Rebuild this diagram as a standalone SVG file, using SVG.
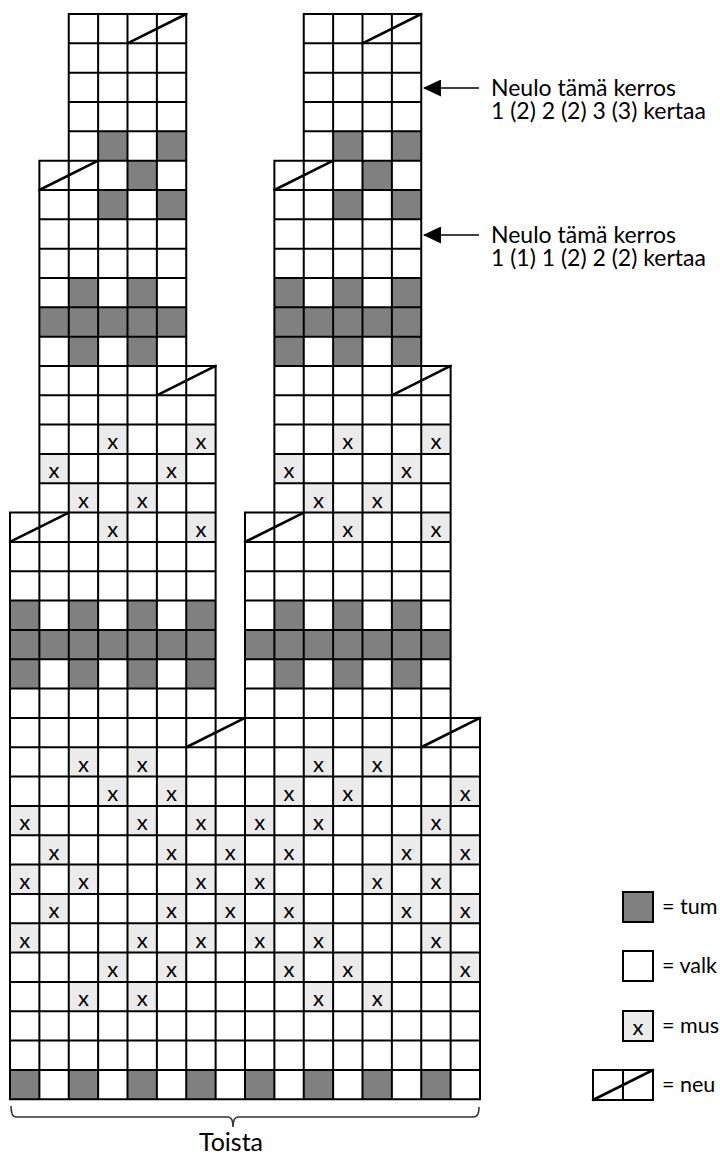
<svg xmlns="http://www.w3.org/2000/svg" xmlns:xlink="http://www.w3.org/1999/xlink" width="720" height="1155" viewBox="0 0 720 1155">
<style>
.dk{fill:#808080}
.lt{fill:#ebebeb}
.grid{fill:none;stroke:#000;stroke-width:2;stroke-linecap:square}
.diag{fill:none;stroke:#000;stroke-width:2.6;stroke-linecap:round}
.xm{font-family:Lato,"Liberation Sans",sans-serif;font-size:22px;text-anchor:middle;fill:#000}
.lbl{font-family:Lato,"Liberation Sans",sans-serif;font-size:23px;fill:#000}
.leg{font-family:Lato,"Liberation Sans",sans-serif;font-size:21.5px;fill:#000}
.conn{stroke:#000;stroke-width:1.6;fill:none}
</style>
<defs>
<marker id="ah" markerUnits="userSpaceOnUse" markerWidth="18" markerHeight="17" refX="17" refY="8.5" orient="auto">
<path d="M0 0L18 8.5L0 17z" fill="#000"/>
</marker>
</defs>
<rect width="720" height="1155" fill="#fff"/>
<g id="chart" transform="translate(10 14) scale(29.375 29.33)">
<g id="dark-cells">
<path class="dk" d="M3 4h1v1h-1zM5 4h1v1h-1zM4 5h1v1h-1zM3 6h1v1h-1zM5 6h1v1h-1zM2 9h1v1h-1zM4 9h1v1h-1zM1 10h5v1h-5zM2 11h1v1h-1zM4 11h1v1h-1zM0 20h1v1h-1zM2 20h1v1h-1zM4 20h1v1h-1zM6 20h1v1h-1zM0 21h7v1h-7zM0 22h1v1h-1zM2 22h1v1h-1zM4 22h1v1h-1zM6 22h1v1h-1zM11 4h1v1h-1zM13 4h1v1h-1zM12 5h1v1h-1zM11 6h1v1h-1zM13 6h1v1h-1zM9 9h1v1h-1zM11 9h1v1h-1zM13 9h1v1h-1zM9 10h5v1h-5zM9 11h1v1h-1zM11 11h1v1h-1zM13 11h1v1h-1zM9 20h1v1h-1zM11 20h1v1h-1zM13 20h1v1h-1zM8 21h7v1h-7zM9 22h1v1h-1zM11 22h1v1h-1zM13 22h1v1h-1zM0 36h1v1h-1zM2 36h1v1h-1zM4 36h1v1h-1zM6 36h1v1h-1zM8 36h1v1h-1zM10 36h1v1h-1zM12 36h1v1h-1zM14 36h1v1h-1z"/>
</g>
<g id="x-cells">
<path class="lt" d="M3 14h1v1h-1zM6 14h1v1h-1zM11 14h1v1h-1zM14 14h1v1h-1zM1 15h1v1h-1zM5 15h1v1h-1zM9 15h1v1h-1zM13 15h1v1h-1zM2 16h1v1h-1zM4 16h1v1h-1zM10 16h1v1h-1zM12 16h1v1h-1zM3 17h1v1h-1zM6 17h1v1h-1zM11 17h1v1h-1zM14 17h1v1h-1zM2 25h1v1h-1zM4 25h1v1h-1zM10 25h1v1h-1zM12 25h1v1h-1zM3 26h1v1h-1zM5 26h1v1h-1zM9 26h1v1h-1zM11 26h1v1h-1zM15 26h1v1h-1zM0 27h1v1h-1zM4 27h1v1h-1zM6 27h1v1h-1zM8 27h1v1h-1zM10 27h1v1h-1zM14 27h1v1h-1zM1 28h1v1h-1zM5 28h1v1h-1zM7 28h1v1h-1zM9 28h1v1h-1zM13 28h1v1h-1zM15 28h1v1h-1zM0 29h1v1h-1zM2 29h1v1h-1zM6 29h1v1h-1zM8 29h1v1h-1zM12 29h1v1h-1zM14 29h1v1h-1zM1 30h1v1h-1zM5 30h1v1h-1zM7 30h1v1h-1zM9 30h1v1h-1zM13 30h1v1h-1zM15 30h1v1h-1zM0 31h1v1h-1zM4 31h1v1h-1zM6 31h1v1h-1zM8 31h1v1h-1zM10 31h1v1h-1zM14 31h1v1h-1zM3 32h1v1h-1zM5 32h1v1h-1zM9 32h1v1h-1zM11 32h1v1h-1zM15 32h1v1h-1zM2 33h1v1h-1zM4 33h1v1h-1zM10 33h1v1h-1zM12 33h1v1h-1z"/>
</g>
<g id="tower-left">
<path id="towerGrid" class="grid" vector-effect="non-scaling-stroke" d="M2 0H6M2 1H6M2 2H6M2 3H6M2 4H6M2 5H6M2 0V5M3 0V5M4 0V5M5 0V5M6 0V5M1 5H6M1 6H6M1 7H6M1 8H6M1 9H6M1 10H6M1 11H6M1 12H6M1 5V12M2 5V12M3 5V12M4 5V12M5 5V12M6 5V12M1 12H7M1 13H7M1 14H7M1 15H7M1 16H7M1 17H7M1 12V17M2 12V17M3 12V17M4 12V17M5 12V17M6 12V17M7 12V17M0 17H7M0 18H7M0 19H7M0 20H7M0 21H7M0 22H7M0 23H7M0 24H7M0 17V24M1 17V24M2 17V24M3 17V24M4 17V24M5 17V24M6 17V24M7 17V24"/>
<path id="towerDiag" class="diag" vector-effect="non-scaling-stroke" d="M4 1L6 0M1 6L3 5M5 13L7 12M0 18L2 17"/>
</g>
<g id="tower-right">
<use xlink:href="#towerGrid" href="#towerGrid" transform="translate(8 0)"/>
<use xlink:href="#towerDiag" href="#towerDiag" transform="translate(8 0)"/>
</g>
<g id="base-block">
<path class="grid" vector-effect="non-scaling-stroke" d="M0 24H16M0 25H16M0 26H16M0 27H16M0 28H16M0 29H16M0 30H16M0 31H16M0 32H16M0 33H16M0 34H16M0 35H16M0 36H16M0 37H16M0 24V37M1 24V37M2 24V37M3 24V37M4 24V37M5 24V37M6 24V37M7 24V37M8 24V37M9 24V37M10 24V37M11 24V37M12 24V37M13 24V37M14 24V37M15 24V37M16 24V37"/>
<path class="diag" vector-effect="non-scaling-stroke" d="M6 25L8 24M14 25L16 24"/>
</g>
</g>
<g id="x-marks">
<text class="xm" x="112.8" y="449.1">x</text><text class="xm" x="200.9" y="449.1">x</text><text class="xm" x="347.8" y="449.1">x</text><text class="xm" x="435.9" y="449.1">x</text>
<text class="xm" x="54.1" y="478.4">x</text><text class="xm" x="171.6" y="478.4">x</text><text class="xm" x="289.1" y="478.4">x</text><text class="xm" x="406.6" y="478.4">x</text>
<text class="xm" x="83.4" y="507.8">x</text><text class="xm" x="142.2" y="507.8">x</text><text class="xm" x="318.4" y="507.8">x</text><text class="xm" x="377.2" y="507.8">x</text>
<text class="xm" x="112.8" y="537.1">x</text><text class="xm" x="200.9" y="537.1">x</text><text class="xm" x="347.8" y="537.1">x</text><text class="xm" x="435.9" y="537.1">x</text>
<text class="xm" x="83.4" y="771.7">x</text><text class="xm" x="142.2" y="771.7">x</text><text class="xm" x="318.4" y="771.7">x</text><text class="xm" x="377.2" y="771.7">x</text>
<text class="xm" x="112.8" y="801.1">x</text><text class="xm" x="171.6" y="801.1">x</text><text class="xm" x="289.1" y="801.1">x</text><text class="xm" x="347.8" y="801.1">x</text><text class="xm" x="465.3" y="801.1">x</text>
<text class="xm" x="24.7" y="830.4">x</text><text class="xm" x="142.2" y="830.4">x</text><text class="xm" x="200.9" y="830.4">x</text><text class="xm" x="259.7" y="830.4">x</text><text class="xm" x="318.4" y="830.4">x</text><text class="xm" x="435.9" y="830.4">x</text>
<text class="xm" x="54.1" y="859.7">x</text><text class="xm" x="171.6" y="859.7">x</text><text class="xm" x="230.3" y="859.7">x</text><text class="xm" x="289.1" y="859.7">x</text><text class="xm" x="406.6" y="859.7">x</text><text class="xm" x="465.3" y="859.7">x</text>
<text class="xm" x="24.7" y="889.1">x</text><text class="xm" x="83.4" y="889.1">x</text><text class="xm" x="200.9" y="889.1">x</text><text class="xm" x="259.7" y="889.1">x</text><text class="xm" x="377.2" y="889.1">x</text><text class="xm" x="435.9" y="889.1">x</text>
<text class="xm" x="54.1" y="918.4">x</text><text class="xm" x="171.6" y="918.4">x</text><text class="xm" x="230.3" y="918.4">x</text><text class="xm" x="289.1" y="918.4">x</text><text class="xm" x="406.6" y="918.4">x</text><text class="xm" x="465.3" y="918.4">x</text>
<text class="xm" x="24.7" y="947.7">x</text><text class="xm" x="142.2" y="947.7">x</text><text class="xm" x="200.9" y="947.7">x</text><text class="xm" x="259.7" y="947.7">x</text><text class="xm" x="318.4" y="947.7">x</text><text class="xm" x="435.9" y="947.7">x</text>
<text class="xm" x="112.8" y="977.1">x</text><text class="xm" x="171.6" y="977.1">x</text><text class="xm" x="289.1" y="977.1">x</text><text class="xm" x="347.8" y="977.1">x</text><text class="xm" x="465.3" y="977.1">x</text>
<text class="xm" x="83.4" y="1006.4">x</text><text class="xm" x="142.2" y="1006.4">x</text><text class="xm" x="318.4" y="1006.4">x</text><text class="xm" x="377.2" y="1006.4">x</text>
</g>
<g id="connectors">
<line class="conn" x1="479" y1="88" x2="424" y2="88" marker-end="url(#ah)"/>
<line class="conn" x1="479" y1="235" x2="424" y2="235" marker-end="url(#ah)"/>
</g>
<g id="note-top">
<text class="lbl" x="491" y="96">Neulo tämä kerros</text>
<text class="lbl" x="491" y="118.5">1 (2) 2 (2) 3 (3) kertaa</text>
</g>
<g id="note-mid">
<text class="lbl" x="491" y="243">Neulo tämä kerros</text>
<text class="lbl" x="491" y="265.5">1 (1) 1 (2) 2 (2) kertaa</text>
</g>
<g id="repeat-brace">
<path d="M11 1106Q11 1117 16 1117H228Q233 1117 233 1127Q233 1117 238 1117H474Q479 1117 479 1107" fill="none" stroke="#333" stroke-width="1.6"/>
<text class="lbl" x="231" y="1151" text-anchor="middle" style="font-size:25px">Toista</text>
</g>
<g id="legend-dark">
<rect x="623" y="892" width="30" height="30" fill="#808080" stroke="#000" stroke-width="2"/>
<text class="leg" x="662" y="914">= tum</text>
</g>
<g id="legend-white">
<rect x="623" y="951" width="30" height="30" fill="#fff" stroke="#000" stroke-width="2"/>
<text class="leg" x="662" y="973">= valk</text>
</g>
<g id="legend-x">
<rect x="623" y="1011" width="30" height="30" fill="#ebebeb" stroke="#000" stroke-width="2"/>
<text class="xm" x="638" y="1035">x</text>
<text class="leg" x="662" y="1033">= mus</text>
</g>
<g id="legend-dec">
<rect x="593" y="1070" width="60" height="30" fill="#fff" stroke="#000" stroke-width="2"/>
<line x1="623" y1="1070" x2="623" y2="1100" stroke="#000" stroke-width="2"/>
<line x1="593" y1="1100" x2="653" y2="1070" stroke="#000" stroke-width="2.6" stroke-linecap="round"/>
<text class="leg" x="662" y="1092">= neu</text>
</g>
</svg>
